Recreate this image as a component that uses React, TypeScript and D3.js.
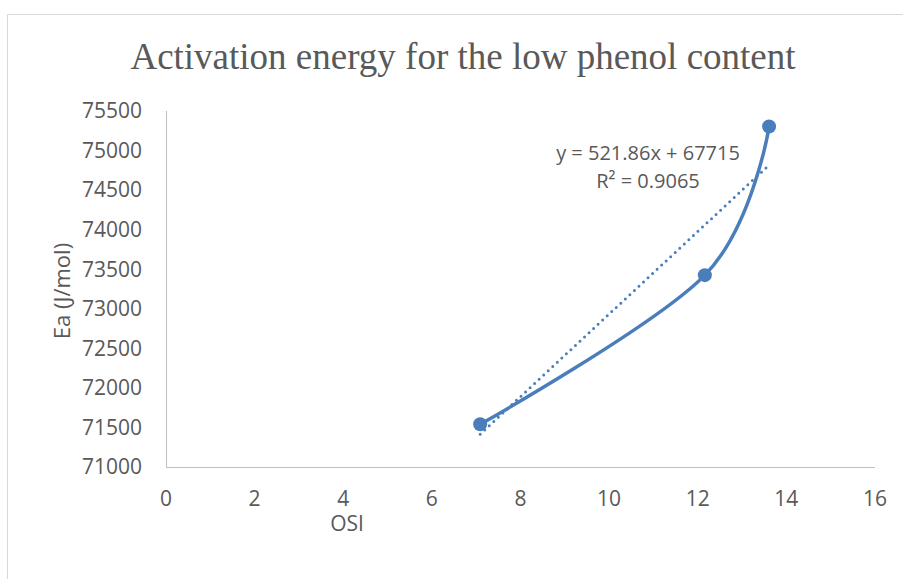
import React, { useEffect, useRef } from "react";
import * as d3 from "d3";

const osi = [7.09, 12.16, 13.61];
const ea = [71540, 73425, 75305];
const xTicks = [0, 2, 4, 6, 8, 10, 12, 14, 16];
const yTicks = [71000, 71500, 72000, 72500, 73000, 73500, 74000, 74500, 75000, 75500];
const trendSlope = [521.86];
const trendIntercept = [67715];
const eqLabels = ["y = 521.86x + 67715", "R² = 0.9065"];
const titleText = "Activation energy for the low phenol content";

const W = 903;
const H = 579;
const M = { left: 166, right: 875, top: 111, bottom: 467 };
const BLUE = "#4a7ebb";
const TXT = "#595959";
const FONT = "'Open Sans', 'Noto Sans', sans-serif";

export default function App() {
  const ref = useRef<SVGSVGElement>(null);
  useEffect(() => {
    const svg = d3.select(ref.current);
    svg.selectAll("*").remove();
    const x = d3.scaleLinear().domain([0, 16]).range([M.left, M.right]);
    const y = d3.scaleLinear().domain([71000, 75500]).range([M.bottom, M.top]);

    svg.append("rect").attr("x", 0).attr("y", 0).attr("width", W).attr("height", H).attr("fill", "#fff");
    svg.append("rect").attr("x", 7.5).attr("y", 14.5).attr("width", 1200).attr("height", 1200)
      .attr("fill", "none").attr("stroke", "#d9d9d9").attr("stroke-width", 1);

    svg.append("text").attr("x", 463).attr("y", 69).attr("text-anchor", "middle")
      .attr("font-family", "'Liberation Serif', 'Times New Roman', serif").attr("font-size", 37)
      .attr("fill", TXT).text(titleText);

    // axes lines
    svg.append("line").attr("x1", M.left + 0.5).attr("x2", M.left + 0.5).attr("y1", M.top).attr("y2", M.bottom)
      .attr("stroke", "#bfbfbf").attr("stroke-width", 1);
    svg.append("line").attr("x1", M.left).attr("x2", M.right).attr("y1", M.bottom + 0.5).attr("y2", M.bottom + 0.5)
      .attr("stroke", "#bfbfbf").attr("stroke-width", 1);

    svg.append("g").selectAll("text").data(yTicks).join("text")
      .attr("x", 142).attr("y", (d) => y(d)).attr("dy", "0.35em").attr("text-anchor", "end")
      .attr("font-family", FONT).attr("font-size", 21).attr("fill", TXT).text((d) => String(d));

    svg.append("g").selectAll("text").data(xTicks).join("text")
      .attr("x", (d) => x(d)).attr("y", 506).attr("text-anchor", "middle")
      .attr("font-family", FONT).attr("font-size", 21).attr("fill", TXT).text((d) => String(d));

    svg.append("text").attr("x", 347).attr("y", 531).attr("text-anchor", "middle")
      .attr("font-family", FONT).attr("font-size", 21).attr("fill", TXT).text("OSI");

    svg.append("text").attr("transform", "translate(62,291) rotate(-90)").attr("dy", "0.35em")
      .attr("text-anchor", "middle").attr("font-family", FONT).attr("font-size", 22).attr("fill", TXT)
      .text("Ea (J/mol)");

    // trendline
    const x0 = d3.min(osi)!;
    const x1 = d3.max(osi)!;
    const tl = [x0, x1].map((v) => [v, trendSlope[0] * v + trendIntercept[0]] as [number, number]);
    svg.append("line").attr("x1", x(tl[0][0])).attr("y1", y(tl[0][1])).attr("x2", x(tl[1][0])).attr("y2", y(tl[1][1]))
      .attr("stroke", BLUE).attr("stroke-width", 3).attr("stroke-dasharray", "0 6.2").attr("stroke-linecap", "round");

    const pts = osi.map((v, i) => [v, ea[i]] as [number, number]);
    const line = d3.line<[number, number]>().x((d) => x(d[0])).y((d) => y(d[1])).curve(d3.curveCardinal.tension(0));
    svg.append("path").attr("d", line(pts)).attr("fill", "none").attr("stroke", BLUE).attr("stroke-width", 3.5)
      .attr("stroke-linecap", "round");

    svg.append("g").selectAll("circle").data(pts).join("circle")
      .attr("cx", (d) => x(d[0])).attr("cy", (d) => y(d[1])).attr("r", 7).attr("fill", BLUE);

    svg.append("g").selectAll("text").data(eqLabels).join("text")
      .attr("x", 648).attr("y", (_d, i) => 160 + i * 28).attr("text-anchor", "middle")
      .attr("font-family", FONT).attr("font-size", 20).attr("fill", TXT).text((d) => d);
  }, []);
  return (
    <div style={{ position: "fixed", left: 0, top: 0 }}>
      <svg ref={ref} width={W} height={H} style={{ display: "block" }} />
    </div>
  );
}
